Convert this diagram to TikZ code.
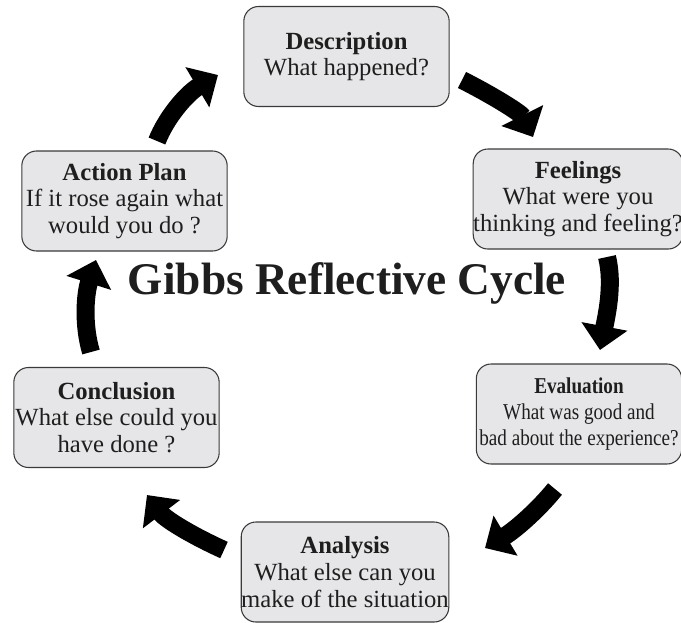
\documentclass[tikz,border=0pt]{standalone}
\usepackage{fontspec}
\setmainfont{Liberation Serif}
\usepackage{graphicx}
\usetikzlibrary{arrows.meta}
\definecolor{gibbsfill}{HTML}{E6E6E8}
\definecolor{gibbsline}{HTML}{3A3A3A}
\definecolor{gibbsink}{HTML}{1E1E1E}

\begin{document}
\begin{tikzpicture}[x=0.75pt, y=-0.75pt,
  stage/.style={draw=gibbsline, fill=gibbsfill, line width=0.8pt, rounded corners=11pt,
    minimum width=154pt, minimum height=75pt, inner sep=0pt, align=center,
    text=gibbsink, font=\fontsize{18.5}{20}\selectfont},
  cyclearrow/.style={-{Triangle[length=18pt,width=34pt]}, line width=13.5pt, black}]

\useasboundingbox (0,0) rectangle (681,622);

% ---- stages of the cycle
\node[stage] (desc) at (346.5,56.5)
  {\textbf{Description}\\What happened?};
\node[stage] (feel) at (578,199)
  {\textbf{Feelings}\\What were you\\thinking and feeling?};
\node[stage, font=\fontsize{17}{19.5}\selectfont] (eval) at (579,414)
  {\scalebox{0.845}[1]{\begin{tabular}{@{}c@{}}\textbf{Evaluation}\\What was good and\\bad about the experience?\end{tabular}}};
\node[stage] (anal) at (345,572)
  {\textbf{Analysis}\\What else can you\\make of the situation};
\node[stage] (concl) at (116.5,417.5)
  {\textbf{Conclusion}\\What else could you\\have done ?};
\node[stage] (plan) at (124.5,201)
  {\textbf{Action Plan}\\If it rose again what\\would you do ?};

% ---- title
\node[font=\fontsize{34}{38}\selectfont\bfseries, text=gibbsink] (title) at (347,283)
  {Gibbs Reflective Cycle};

% ============================================== arrows
\coordinate (desc-out) at (462,80);   \coordinate (feel-in) at (533,137);
\coordinate (feel-out) at (607,257);  \coordinate (eval-in) at (600,350);
\coordinate (eval-out) at (555,489);  \coordinate (anal-in) at (485,548);
\coordinate (anal-out) at (224,550);  \coordinate (concl-in) at (147,495);
\coordinate (concl-out) at (91,352);  \coordinate (plan-in) at (96,260);
\coordinate (plan-out) at (157,141);  \coordinate (desc-in) at (218,75);

\draw[cyclearrow] (desc-out) .. controls (490,94) and (521,113) .. (feel-in);
\draw[cyclearrow] (feel-out) .. controls (614,285) and (606,318) .. (eval-in);
\draw[cyclearrow] (eval-out) .. controls (538,510) and (515,530) .. (anal-in);
\draw[cyclearrow] (anal-out) .. controls (195,537) and (166,520) .. (concl-in);
\draw[cyclearrow] (concl-out) .. controls (83,325) and (85,295) .. (plan-in);
\draw[cyclearrow] (plan-out) .. controls (166,118) and (186,94) .. (desc-in);

\end{tikzpicture}
\end{document}
